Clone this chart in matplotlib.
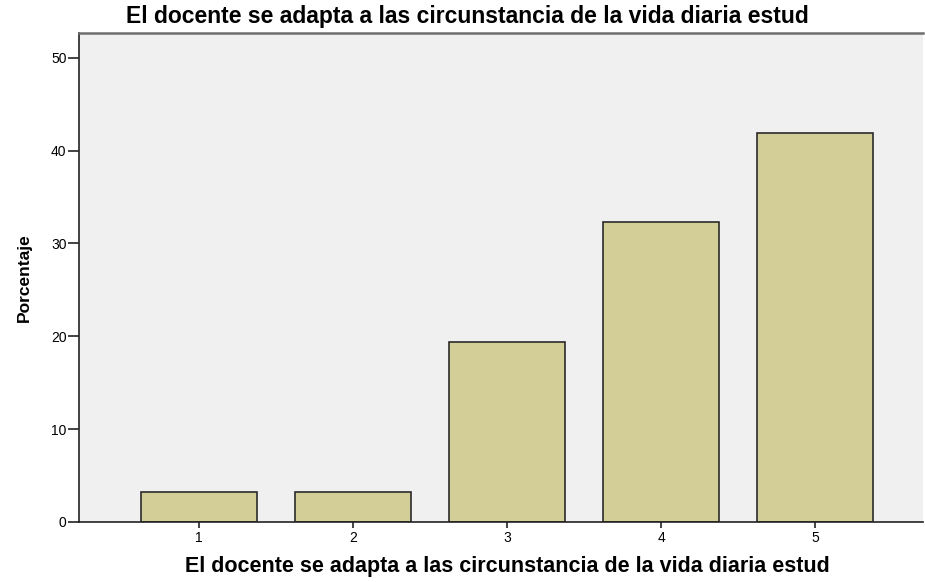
import matplotlib
matplotlib.use("Agg")
import matplotlib.pyplot as plt

# data
categories = ["1", "2", "3", "4", "5"]
porcentaje = [3.2, 3.2, 19.4, 32.3, 41.9]
yticks = [0, 10, 20, 30, 40, 50]

titulo = "El docente se adapta a las circunstancia de la vida diaria estud"

plt.rcParams['font.family'] = ['Liberation Sans', 'DejaVu Sans']

fig = plt.figure(figsize=(9.25, 5.82), dpi=100)
ax = fig.add_axes([0.0854, 0.1031, 0.9124, 0.8402])
ax.set_facecolor('#f0f0f0')

x = range(1, len(categories) + 1)
ax.bar(x, porcentaje, width=0.756, color='#d3ce97', edgecolor='#2b2b2b',
       linewidth=1.2, zorder=2)

ax.set_xlim(0.221, 5.70)
ax.set_ylim(0, 52.66)
ax.set_xticks(list(x))
ax.set_xticklabels(categories)
ax.set_yticks(yticks)

ax.spines['right'].set_visible(False)
ax.spines['top'].set_color('#6e6e6e')
ax.spines['top'].set_linewidth(1.8)
for s in ['left', 'bottom']:
    ax.spines[s].set_color('#222222')
    ax.spines[s].set_linewidth(1.2)

ax.tick_params(axis='y', direction='out', length=8, width=1.2, color='#222222',
               labelsize=10, pad=1)
ax.tick_params(axis='x', direction='out', length=4.5, width=1.2, color='#222222',
               labelsize=10, pad=2)

fig.text(0.505, 1 - 17 / 582, titulo, fontsize=16.5, fontweight='bold',
         ha='center', va='center')
ax.set_xlabel(titulo, fontsize=15.5, fontweight='bold')
ax.xaxis.set_label_coords(0.507, -0.092)
ax.xaxis.label.set_va('center')
ax.set_ylabel("Porcentaje", fontsize=12.5, fontweight='bold',
              family=['Liberation Sans Narrow', 'Liberation Sans'])
ax.yaxis.set_label_coords(-0.065, 0.5)
ax.yaxis.label.set_va('center')

fig.savefig("out.png", dpi=100)
